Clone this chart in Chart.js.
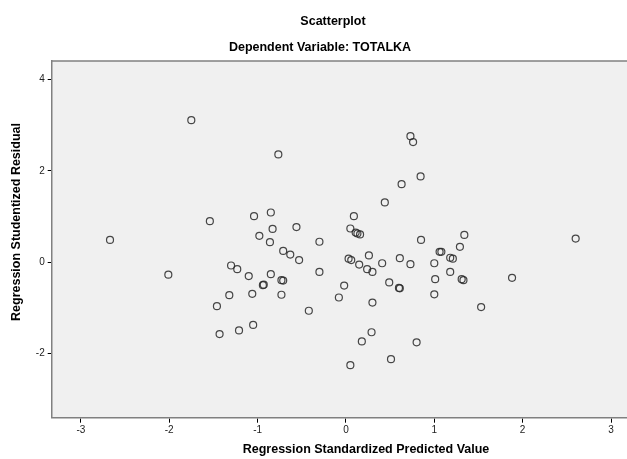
<!DOCTYPE html>
<html>
<head>
<meta charset="utf-8">
<script src="https://cdn.jsdelivr.net/npm/chart.js@4.4.1/dist/chart.umd.min.js"></script>
<style>
  body { margin: 0; background: #fff; overflow: hidden; }
  /* plot box runs off the right edge in the reference, so the canvas is a bit wider than the window */
  #wrap { width: 627px; height: 459px; overflow: hidden; }
</style>
</head>
<body>
<div id="wrap"><canvas id="chart" width="633" height="459"></canvas></div>
<script>
const predicted = [-2.67, -2.01, -1.75, -1.54, -1.46, -1.43, -1.32, -1.30, -1.23, -1.21,
  -1.10, -1.06, -1.05, -1.04, -0.98, -0.94, -0.93, -0.86, -0.85, -0.85,
  -0.83, -0.765, -0.73, -0.71, -0.73, -0.71, -0.63, -0.56, -0.53, -0.42,
  -0.30, -0.30, -0.08, -0.02, 0.03, 0.06, 0.05, 0.05, 0.09, 0.11,
  0.13, 0.16, 0.15, 0.18, 0.24, 0.26, 0.29, 0.30, 0.30, 0.41,
  0.44, 0.49, 0.51, 0.60, 0.61, 0.61, 0.63, 0.73, 0.73, 0.76,
  0.80, 0.845, 0.85, 1.00, 1.01, 1.00, 1.06, 1.08, 1.18, 1.21,
  1.18, 1.29, 1.31, 1.33, 1.34, 1.53, 1.88, 2.60];
const residual = [0.49, -0.27, 3.11, 0.90, -0.96, -1.57, -0.72, -0.07, -0.15, -1.49,
  -0.30, -0.69, -1.37, 1.01, 0.58, -0.50, -0.49, 0.44, 1.09, -0.26,
  0.73, 2.36, -0.39, -0.40, -0.71, 0.25, 0.17, 0.77, 0.05, -1.06,
  0.45, -0.21, -0.77, -0.51, 0.08, 0.05, 0.74, -2.25, 1.01, 0.65,
  0.63, 0.61, -0.05, -1.73, -0.15, 0.15, -1.53, -0.21, -0.88, -0.02,
  1.31, -0.44, -2.12, -0.56, -0.57, 0.09, 1.71, 2.76, -0.04, 2.63,
  -1.75, 1.88, 0.49, -0.02, -0.37, -0.70, 0.23, 0.23, 0.10, 0.08,
  -0.21, 0.34, -0.37, -0.39, 0.60, -0.98, -0.34, 0.52];
const xTicks = [-3, -2, -1, 0, 1, 2, 3];
const yTicks = [-2, 0, 2, 4];

const points = predicted.map((v, i) => ({ x: v, y: residual[i] }));
const FONT = '"Liberation Sans", Arial, sans-serif';

// plot background, top border and all the titles
const frame = {
  id: 'frame',
  beforeDraw(chart) {
    const { ctx, chartArea: a } = chart;
    ctx.save();
    ctx.fillStyle = '#f0f0f0';
    ctx.fillRect(a.left, a.top, a.right - a.left, a.bottom - a.top);
    ctx.restore();
  },
  afterDraw(chart) {
    const { ctx, chartArea: a } = chart;
    ctx.save();
    ctx.strokeStyle = '#808080';
    ctx.lineWidth = 1.5;
    ctx.beginPath();
    ctx.moveTo(a.left, a.top);
    ctx.lineTo(a.right, a.top);
    ctx.stroke();

    ctx.fillStyle = '#000';
    ctx.textAlign = 'center';
    ctx.textBaseline = 'middle';
    ctx.font = 'bold 12.5px ' + FONT;
    ctx.fillText('Scatterplot', 333, 22);
    ctx.fillText('Dependent Variable: TOTALKA', 320, 48);
    ctx.fillText('Regression Standardized Predicted Value', 366, 450);
    ctx.translate(17, 222);
    ctx.rotate(-Math.PI / 2);
    ctx.fillText('Regression Studentized Residual', 0, 0);
    ctx.restore();
  }
};

new Chart(document.getElementById('chart'), {
  type: 'scatter',
  data: {
    datasets: [{
      data: points,
      pointStyle: 'circle',
      pointRadius: 3.5,
      pointBorderWidth: 1.2,
      borderColor: 'rgba(40,40,40,0.85)',
      backgroundColor: 'rgba(0,0,0,0)'
    }]
  },
  options: {
    responsive: false,
    animation: false,
    devicePixelRatio: 1,
    layout: { padding: { top: 61, left: 0, right: 0, bottom: 0 } },
    plugins: {
      legend: { display: false },
      tooltip: { enabled: false }
    },
    scales: {
      x: {
        type: 'linear',
        min: -3.33,
        max: 3.19,
        afterBuildTicks: s => { s.ticks = xTicks.map(v => ({ value: v })); },
        afterFit: s => { s.height = 41.3; s.paddingLeft = 0; s.paddingRight = 0; },
        grid: { drawOnChartArea: false, drawTicks: true, tickLength: 5, color: '#000' },
        border: { display: true, color: '#808080', width: 1.5 },
        ticks: { color: '#222', font: { family: FONT, size: 10 }, padding: 2, maxRotation: 0 }
      },
      y: {
        type: 'linear',
        min: -3.40,
        max: 4.405,
        afterBuildTicks: s => { s.ticks = yTicks.map(v => ({ value: v })); },
        afterFit: s => { s.width = 51.7; s.paddingTop = 0; s.paddingBottom = 0; },
        grid: { drawOnChartArea: false, drawTicks: true, tickLength: 4, color: '#000' },
        border: { display: true, color: '#808080', width: 1.5 },
        ticks: { color: '#222', font: { family: FONT, size: 10 }, padding: 3 }
      }
    }
  },
  plugins: [frame]
});
</script>
</body>
</html>
